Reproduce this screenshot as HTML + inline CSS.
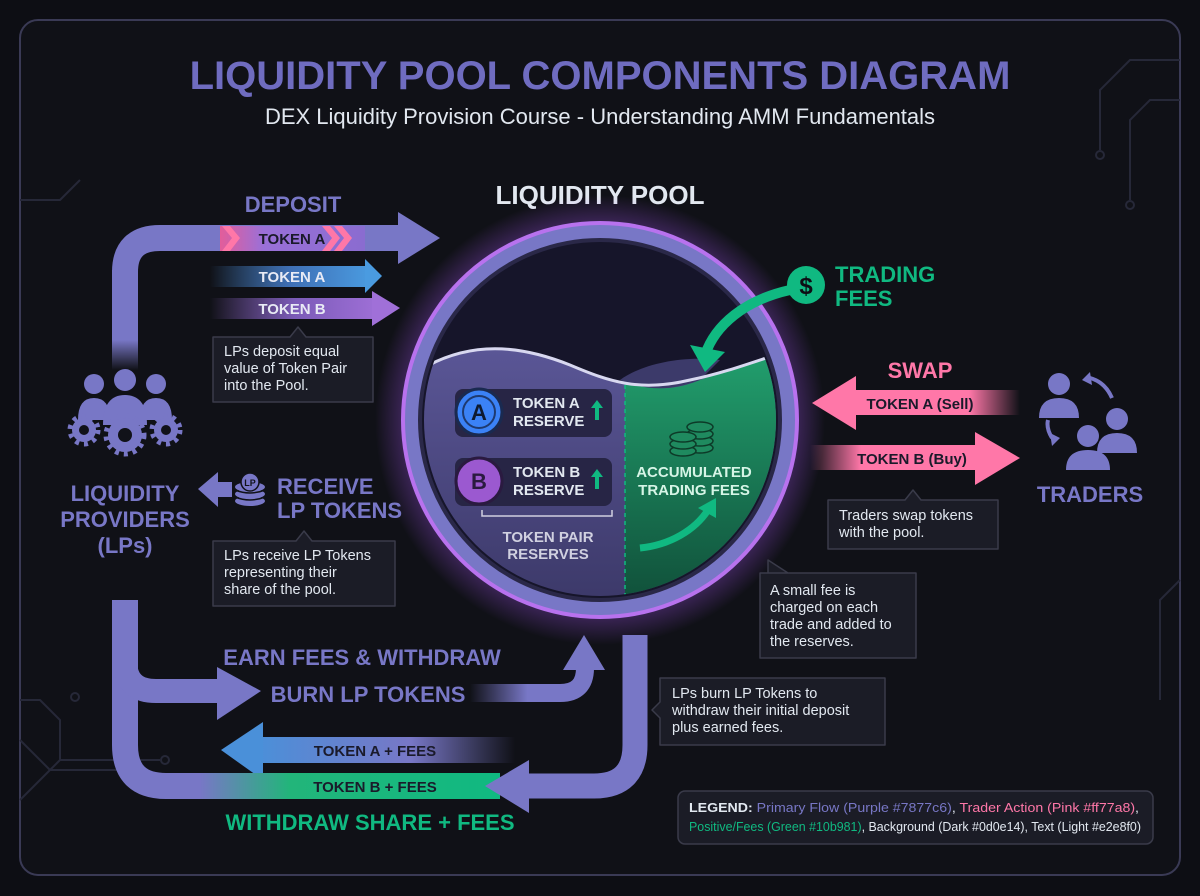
<!DOCTYPE html>
<html><head><meta charset="utf-8"><style>
html,body{margin:0;padding:0;background:#0d0e14;}
svg{display:block;font-family:"Liberation Sans",sans-serif;}
</style></head><body>
<svg width="1200" height="896" viewBox="0 0 1200 896" xmlns="http://www.w3.org/2000/svg">
<defs>
<radialGradient id="glow" cx="50%" cy="50%" r="50%">
<stop offset="80%" stop-color="#a855f7" stop-opacity="0.45"/>
<stop offset="100%" stop-color="#a855f7" stop-opacity="0"/>
</radialGradient>
<linearGradient id="gBlue" x1="0" x2="1"><stop offset="0" stop-color="#4a90d9" stop-opacity="0"/><stop offset="0.5" stop-color="#3f6fb5"/><stop offset="1" stop-color="#4a9be0"/></linearGradient>
<linearGradient id="gPur" x1="0" x2="1"><stop offset="0" stop-color="#9b6fd6" stop-opacity="0"/><stop offset="0.5" stop-color="#7b5bb8"/><stop offset="1" stop-color="#a070d8"/></linearGradient>
<linearGradient id="gBlueL" x1="0" x2="1"><stop offset="0" stop-color="#4a90d9"/><stop offset="0.6" stop-color="#7877c6"/><stop offset="1" stop-color="#7877c6" stop-opacity="0"/></linearGradient>
<linearGradient id="gGreen" x1="0" x2="1"><stop offset="0" stop-color="#7877c6"/><stop offset="0.3" stop-color="#22b57a"/><stop offset="1" stop-color="#10b981"/></linearGradient>
<linearGradient id="gBurn" x1="0" x2="1"><stop offset="0" stop-color="#7877c6" stop-opacity="0"/><stop offset="0.5" stop-color="#7877c6"/></linearGradient>
<linearGradient id="gPinkL" x1="0" x2="1"><stop offset="0" stop-color="#ff77a8"/><stop offset="0.7" stop-color="#ff77a8"/><stop offset="1" stop-color="#ff77a8" stop-opacity="0"/></linearGradient>
<linearGradient id="gPinkR" x1="0" x2="1"><stop offset="0" stop-color="#ff77a8" stop-opacity="0"/><stop offset="0.3" stop-color="#ff77a8"/></linearGradient>
<linearGradient id="gTokA" x1="0" x2="1"><stop offset="0" stop-color="#e35d9a"/><stop offset="0.3" stop-color="#9a70d8"/><stop offset="1" stop-color="#8a6cd0"/></linearGradient>
<linearGradient id="gLeft" x1="0" x2="0" y1="0" y2="1"><stop offset="0" stop-color="#5a5696"/><stop offset="1" stop-color="#3a3766"/></linearGradient>
<linearGradient id="gRight" x1="0" x2="0" y1="0" y2="1"><stop offset="0" stop-color="#22a06e"/><stop offset="1" stop-color="#0f4a36"/></linearGradient>
<linearGradient id="gVfade" x1="0" x2="0" y1="0" y2="1"><stop offset="0" stop-color="#7877c6"/><stop offset="0.7" stop-color="#7877c6"/><stop offset="1" stop-color="#7877c6" stop-opacity="0"/></linearGradient>
<clipPath id="inner"><circle cx="600" cy="420" r="176"/></clipPath>
</defs>
<rect x="0" y="0" width="1200" height="896" fill="#0d0e14"/>
<rect x="20" y="20" width="1160" height="855" rx="18" fill="#101117" stroke="#3a3a55" stroke-width="2"/>
<g stroke="#262838" stroke-width="2" fill="none">
<path d="M1180,60 H1130 L1100,90 V150"/><path d="M1180,100 H1150 L1130,120 V200"/><circle cx="1100" cy="155" r="4"/><circle cx="1130" cy="205" r="4"/>
<path d="M20,700 H40 L60,720 V760"/><path d="M20,740 L50,770 H140"/><path d="M20,800 L60,760 H160"/><circle cx="75" cy="697" r="4"/><circle cx="165" cy="760" r="4"/>
<path d="M1180,580 L1160,600 V700"/><path d="M20,200 H60 L80,180"/>
</g>
<text x="600" y="89" text-anchor="middle" font-size="40" font-weight="bold" fill="#6f6cc0">LIQUIDITY POOL COMPONENTS DIAGRAM</text>
<text x="600" y="124" text-anchor="middle" font-size="22" fill="#e2e8f0">DEX Liquidity Provision Course - Understanding AMM Fundamentals</text>
<text x="600" y="204" text-anchor="middle" font-size="26" font-weight="bold" fill="#e2e8f0">LIQUIDITY POOL</text>

<circle cx="600" cy="420" r="225" fill="url(#glow)"/>
<circle cx="600" cy="420" r="197" fill="#7877c6" stroke="#b872ee" stroke-width="4"/>
<circle cx="600" cy="420" r="180" fill="#16152a" stroke="#2a2848" stroke-width="4"/>
<g clip-path="url(#inner)">
<path d="M420,370 C470,340 520,345 570,365 C610,382 640,392 690,380 C720,374 745,365 790,350 V620 H420 Z" fill="url(#gLeft)"/>
<path d="M625,380 C650,390 670,392 700,380 C730,370 760,358 790,350 V620 H625 Z" fill="url(#gRight)"/>
<path d="M620,380 C640,365 680,355 720,360 L700,380 C670,392 645,390 620,380Z" fill="#3c3a6a"/>
<path d="M420,370 C470,340 520,345 570,365 C610,382 640,392 690,380 C720,374 745,365 790,350" stroke="#d8d8f0" stroke-width="3" fill="none"/>
<line x1="625" y1="385" x2="625" y2="600" stroke="#10b981" stroke-width="1.5" stroke-dasharray="4 4"/>
</g>
<rect x="455" y="389" width="157" height="48" rx="8" fill="#272545"/>
<circle cx="479" cy="412" r="23" fill="#3b82f6" stroke="#1a2a50" stroke-width="3"/>
<circle cx="479" cy="412" r="16" fill="none" stroke="#1e3a70" stroke-width="2"/>
<text x="479" y="420" text-anchor="middle" font-size="22" font-weight="bold" fill="#0e1a30">A</text>
<text x="513" y="408" font-size="15" font-weight="bold" fill="#e2e8f0">TOKEN A</text>
<text x="513" y="426" font-size="15" font-weight="bold" fill="#e2e8f0">RESERVE</text>
<path d="M597,400 l6,8 h-4 v12 h-4 v-12 h-4z" fill="#10b981"/>
<rect x="455" y="458" width="157" height="48" rx="8" fill="#272545"/>
<circle cx="479" cy="481" r="23" fill="#9b59d0" stroke="#2a1a40" stroke-width="3"/>
<text x="479" y="489" text-anchor="middle" font-size="22" font-weight="bold" fill="#2a1a40">B</text>
<text x="513" y="477" font-size="15" font-weight="bold" fill="#e2e8f0">TOKEN B</text>
<text x="513" y="495" font-size="15" font-weight="bold" fill="#e2e8f0">RESERVE</text>
<path d="M597,469 l6,8 h-4 v12 h-4 v-12 h-4z" fill="#10b981"/>
<path d="M482,510 v6 h130 v-6" stroke="#d0d0e0" stroke-width="1.5" fill="none"/>
<text x="548" y="542" text-anchor="middle" font-size="15" font-weight="bold" fill="#d0d0e0">TOKEN PAIR</text>
<text x="548" y="559" text-anchor="middle" font-size="15" font-weight="bold" fill="#d0d0e0">RESERVES</text>
<g fill="#1f8a5f" stroke="#0d3a28" stroke-width="1.5">
<ellipse cx="700" cy="448" rx="13" ry="5"/><ellipse cx="700" cy="441" rx="13" ry="5"/><ellipse cx="700" cy="434" rx="13" ry="5"/><ellipse cx="700" cy="427" rx="13" ry="5"/>
<ellipse cx="683" cy="451" rx="13" ry="5"/><ellipse cx="683" cy="444" rx="13" ry="5"/><ellipse cx="683" cy="437" rx="13" ry="5"/>
</g>
<text x="694" y="477" text-anchor="middle" font-size="15" font-weight="bold" fill="#d6f5e6">ACCUMULATED</text>
<text x="694" y="495" text-anchor="middle" font-size="15" font-weight="bold" fill="#d6f5e6">TRADING FEES</text>
<path d="M640,548 C670,545 695,530 708,510" stroke="#10b981" stroke-width="7" fill="none"/>
<path d="M698,508 L716,498 L716,518 Z" fill="#10b981"/>
<path d="M790,290 C745,300 715,325 705,355" stroke="#10b981" stroke-width="10" fill="none"/>
<path d="M690,345 L705,372 L725,352 Z" fill="#10b981"/>
<circle cx="806" cy="285" r="19" fill="#10b981"/>
<text x="806" y="294" text-anchor="middle" font-size="24" font-weight="bold" fill="#0d0e14">$</text>
<text x="835" y="282" font-size="22" font-weight="bold" fill="#10b981">TRADING</text>
<text x="835" y="306" font-size="22" font-weight="bold" fill="#10b981">FEES</text>

<path d="M125,272 Q125,238 160,238 H405" stroke="#7877c6" stroke-width="26" fill="none"/>
<rect x="112" y="270" width="26" height="100" fill="url(#gVfade)"/>
<path d="M398,212 L440,238 L398,264 Z" fill="#7877c6"/>
<rect x="220" y="226" width="145" height="25" fill="url(#gTokA)"/>
<path d="M222,226 l10,12 l-10,13 h8 l10,-13 l-10,-12z M322,226 l10,12 l-10,13 h8 l10,-13 l-10,-12z M334,226 l10,12 l-10,13 h8 l10,-13 l-10,-12z" fill="#ff77a8"/>
<text x="292" y="244" text-anchor="middle" font-size="15" font-weight="bold" fill="#1a1a2a">TOKEN A</text>
<text x="293" y="212" text-anchor="middle" font-size="22" font-weight="bold" fill="#7877c6">DEPOSIT</text>
<rect x="210" y="266" width="160" height="21" fill="url(#gBlue)"/>
<path d="M365,259 L382,276 L365,293 Z" fill="#4a9be0"/>
<text x="292" y="282" text-anchor="middle" font-size="15" font-weight="bold" fill="#e8eaf5">TOKEN A</text>
<rect x="210" y="298" width="170" height="21" fill="url(#gPur)"/>
<path d="M372,291 L400,308 L372,326 Z" fill="#a070d8"/>
<text x="292" y="314" text-anchor="middle" font-size="15" font-weight="bold" fill="#e8eaf5">TOKEN B</text>
<path d="M213,337 H290 L298,327 L306,337 H373 V402 H213 Z" fill="#1b1c26" stroke="#3a3b4a" stroke-width="1.5" stroke-linejoin="round"/>
<text x="224" y="356" font-size="14.5" fill="#e2e8f0">LPs deposit equal</text>
<text x="224" y="373" font-size="14.5" fill="#e2e8f0">value of Token Pair</text>
<text x="224" y="390" font-size="14.5" fill="#e2e8f0">into the Pool.</text>

<g fill="#7877c6">
<circle cx="94" cy="384" r="10"/><circle cx="125" cy="380" r="11"/><circle cx="156" cy="384" r="10"/>
<path d="M78,420 Q78,398 94,398 Q110,398 110,420Z"/><path d="M140,420 Q140,398 156,398 Q172,398 172,420Z"/>
<path d="M103,425 Q103,395 125,395 Q147,395 147,425Z"/>
<circle cx="84" cy="430" r="12"/><circle cx="125" cy="435" r="17"/><circle cx="166" cy="430" r="12"/>
</g>
<g fill="#111219"><circle cx="84" cy="430" r="5"/><circle cx="125" cy="435" r="7"/><circle cx="166" cy="430" r="5"/></g>
<g stroke="#7877c6" stroke-width="5" stroke-dasharray="4 5" fill="none"><circle cx="84" cy="430" r="14"/><circle cx="166" cy="430" r="14"/><circle cx="125" cy="435" r="19"/></g>
<text x="125" y="501" text-anchor="middle" font-size="22" font-weight="bold" fill="#7877c6">LIQUIDITY</text>
<text x="125" y="527" text-anchor="middle" font-size="22" font-weight="bold" fill="#7877c6">PROVIDERS</text>
<text x="125" y="553" text-anchor="middle" font-size="22" font-weight="bold" fill="#7877c6">(LPs)</text>

<path d="M198,489 L218,472 V482 H232 V497 H218 V507 Z" fill="#7877c6"/>
<g fill="#7877c6"><ellipse cx="250" cy="501" rx="15" ry="5"/><ellipse cx="250" cy="494" rx="15" ry="5"/><ellipse cx="250" cy="487" rx="15" ry="5"/></g>
<g stroke="#111219" stroke-width="1.5" fill="none"><path d="M235,490 q15,6 30,0 M235,497 q15,6 30,0"/></g>
<circle cx="250" cy="482" r="9" fill="#7877c6" stroke="#111219" stroke-width="1.5"/>
<text x="250" y="486" text-anchor="middle" font-size="9" font-weight="bold" fill="#111219">LP</text>
<text x="277" y="494" font-size="22" font-weight="bold" fill="#7877c6">RECEIVE</text>
<text x="277" y="518" font-size="22" font-weight="bold" fill="#7877c6">LP TOKENS</text>
<path d="M213,541 H296 L304,531 L312,541 H395 V606 H213 Z" fill="#1b1c26" stroke="#3a3b4a" stroke-width="1.5" stroke-linejoin="round"/>
<text x="224" y="560" font-size="14.5" fill="#e2e8f0">LPs receive LP Tokens</text>
<text x="224" y="577" font-size="14.5" fill="#e2e8f0">representing their</text>
<text x="224" y="594" font-size="14.5" fill="#e2e8f0">share of the pool.</text>

<path d="M125,600 V745 Q125,786 166,786 H230" stroke="#7877c6" stroke-width="26" fill="none"/>
<path d="M125,640 V660 Q125,691 156,691 H222" stroke="#7877c6" stroke-width="24" fill="none"/>
<path d="M217,667 L261,691 L217,720 Z" fill="#7877c6"/>
<text x="362" y="665" text-anchor="middle" font-size="22" font-weight="bold" fill="#7877c6">EARN FEES &amp; WITHDRAW</text>
<text x="368" y="702" text-anchor="middle" font-size="22" font-weight="bold" fill="#7877c6">BURN LP TOKENS</text>
<path d="M470,693 H560 Q585,693 585,668 V665" stroke="url(#gBurn)" stroke-width="18" fill="none"/>
<path d="M563,670 L584,635 L605,670 Z" fill="#7877c6"/>
<rect x="255" y="737" width="260" height="26" fill="url(#gBlueL)"/>
<path d="M263,722 L221,750 L263,780 Z" fill="#4a90d9"/>
<text x="375" y="756" text-anchor="middle" font-size="15" font-weight="bold" fill="#1a1a2a">TOKEN A + FEES</text>
<rect x="200" y="773" width="300" height="26" fill="url(#gGreen)"/>
<text x="375" y="792" text-anchor="middle" font-size="15" font-weight="bold" fill="#1a1a2a">TOKEN B + FEES</text>
<path d="M635,635 V745 Q635,786 594,786 H525" stroke="#7877c6" stroke-width="25" fill="none"/>
<path d="M529,760 L485,786 L529,813 Z" fill="#7877c6"/>
<text x="370" y="830" text-anchor="middle" font-size="22" font-weight="bold" fill="#10b981">WITHDRAW SHARE + FEES</text>

<path d="M660,678 H885 V745 H660 V718 L652,710 L660,702 Z" fill="#1b1c26" stroke="#3a3b4a" stroke-width="1.5" stroke-linejoin="round"/>
<text x="672" y="698" font-size="14.5" fill="#e2e8f0">LPs burn LP Tokens to</text>
<text x="672" y="715" font-size="14.5" fill="#e2e8f0">withdraw their initial deposit</text>
<text x="672" y="732" font-size="14.5" fill="#e2e8f0">plus earned fees.</text>
<path d="M760,573 H788 L768,560 V573 Z M760,573 H916 V658 H760 Z" fill="#1b1c26" stroke="#3a3b4a" stroke-width="1.5" stroke-linejoin="round"/>
<text x="770" y="595" font-size="14.5" fill="#e2e8f0">A small fee is</text>
<text x="770" y="612" font-size="14.5" fill="#e2e8f0">charged on each</text>
<text x="770" y="629" font-size="14.5" fill="#e2e8f0">trade and added to</text>
<text x="770" y="646" font-size="14.5" fill="#e2e8f0">the reserves.</text>
<path d="M828,500 H905 L913,490 L921,500 H998 V549 H828 Z" fill="#1b1c26" stroke="#3a3b4a" stroke-width="1.5" stroke-linejoin="round"/>
<text x="839" y="520" font-size="14.5" fill="#e2e8f0">Traders swap tokens</text>
<text x="839" y="537" font-size="14.5" fill="#e2e8f0">with the pool.</text>

<text x="920" y="378" text-anchor="middle" font-size="22" font-weight="bold" fill="#ff77a8">SWAP</text>
<rect x="850" y="390" width="170" height="25" fill="url(#gPinkL)"/>
<path d="M856,376 L812,403 L856,430 Z" fill="#ff77a8"/>
<text x="920" y="409" text-anchor="middle" font-size="15" font-weight="bold" fill="#1a1a2a">TOKEN A (Sell)</text>
<rect x="810" y="445" width="170" height="25" fill="url(#gPinkR)"/>
<path d="M975,432 L1020,458 L975,485 Z" fill="#ff77a8"/>
<text x="912" y="464" text-anchor="middle" font-size="15" font-weight="bold" fill="#1a1a2a">TOKEN B (Buy)</text>
<g fill="#7877c6">
<circle cx="1059" cy="384" r="11"/><path d="M1039,418 Q1039,398 1059,398 Q1079,398 1079,418Z"/>
<circle cx="1117" cy="419" r="11"/><path d="M1097,453 Q1097,433 1117,433 Q1137,433 1137,453Z"/>
<circle cx="1088" cy="436" r="11"/><path d="M1066,470 Q1066,450 1088,450 Q1110,450 1110,470Z"/>
<path d="M1082,380 L1090,372 L1092,385 Z"/><path d="M1060,438 L1052,446 L1050,433 Z"/>
</g>
<path d="M1090,378 Q1105,382 1112,398 M1052,438 Q1046,428 1048,420" stroke="#7877c6" stroke-width="4" fill="none"/>
<text x="1090" y="502" text-anchor="middle" font-size="22" font-weight="bold" fill="#7877c6">TRADERS</text>

<rect x="678" y="791" width="475" height="53" rx="7" fill="#1b1c26" stroke="#3a3b4a" stroke-width="1.5"/>
<text x="689" y="812" font-size="12.5" fill="#e2e8f0" textLength="450" lengthAdjust="spacingAndGlyphs"><tspan font-weight="bold">LEGEND:</tspan> <tspan fill="#7877c6">Primary Flow (Purple #7877c6)</tspan>, <tspan fill="#ff77a8">Trader Action (Pink #ff77a8)</tspan>,</text>
<text x="689" y="831" font-size="12.5" fill="#e2e8f0" textLength="452" lengthAdjust="spacingAndGlyphs"><tspan fill="#10b981">Positive/Fees (Green #10b981)</tspan>, Background (Dark #0d0e14), Text (Light #e2e8f0)</text>
</svg>
</body></html>
